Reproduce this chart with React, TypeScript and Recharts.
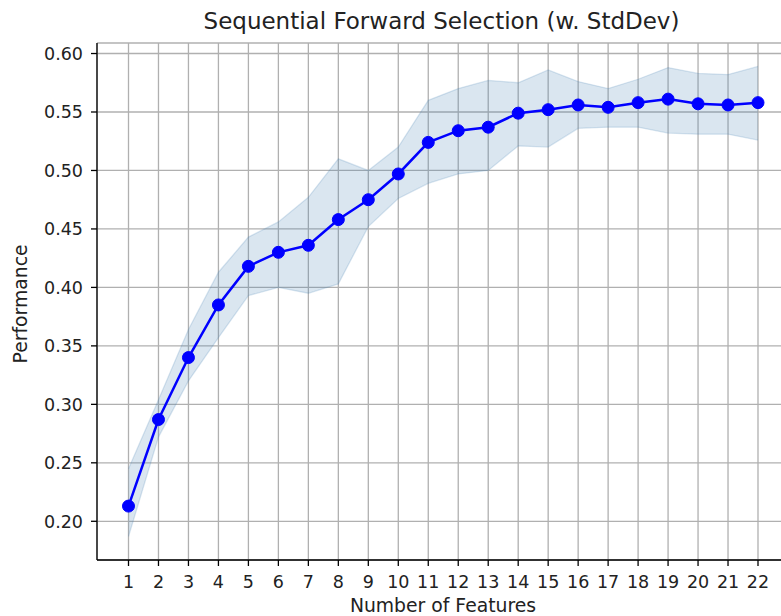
import React from "react";
import {
  ComposedChart,
  Line,
  Area,
  XAxis,
  YAxis,
  CartesianGrid,
} from "recharts";

const features = [1, 2, 3, 4, 5, 6, 7, 8, 9, 10, 11, 12, 13, 14, 15, 16, 17, 18, 19, 20, 21, 22];
const meanPerf = [0.213, 0.287, 0.340, 0.385, 0.418, 0.430, 0.436, 0.458, 0.475, 0.497, 0.524, 0.534, 0.537, 0.549, 0.552, 0.556, 0.554, 0.558, 0.561, 0.557, 0.556, 0.558];
const upperPerf = [0.245, 0.304, 0.364, 0.413, 0.443, 0.456, 0.477, 0.510, 0.500, 0.520, 0.560, 0.570, 0.577, 0.575, 0.586, 0.576, 0.570, 0.578, 0.588, 0.583, 0.582, 0.589];
const lowerPerf = [0.187, 0.272, 0.320, 0.357, 0.393, 0.400, 0.395, 0.403, 0.452, 0.476, 0.489, 0.497, 0.500, 0.521, 0.520, 0.536, 0.537, 0.537, 0.532, 0.531, 0.531, 0.526];
const yTicks = [0.2, 0.25, 0.3, 0.35, 0.4, 0.45, 0.5, 0.55, 0.6];

const data = features.map((f, i) => ({
  k: f,
  avg: meanPerf[i],
  band: [lowerPerf[i], upperPerf[i]],
}));

const FONT = "'DejaVu Sans', sans-serif";
const Y_DOMAIN: [number, number] = [0.1669, 0.609];
const TICK_FONT = 17.5;
const LABEL_FONT = 18.8;

export default function App() {
  return (
    <div
      style={{
        position: "absolute",
        left: 0,
        top: 0,
        width: 781,
        height: 616,
        overflow: "hidden",
        background: "#fff",
        fontFamily: FONT,
      }}
    >
      <ComposedChart
        width={830}
        height={616}
        data={data}
        margin={{ top: 43, right: 11, bottom: 0, left: 0 }}
      >
        <CartesianGrid stroke="#b0b0b0" strokeWidth={1.3} />
        <XAxis
          dataKey="k"
          type="number"
          domain={[1, 22]}
          ticks={features}
          interval={0}
          padding={{ left: 31.5, right: 61 }}
          height={56}
          tickSize={6}
          tickMargin={10}
          axisLine={{ stroke: "#000", strokeWidth: 1.3 }}
          tickLine={{ stroke: "#000", strokeWidth: 1.3 }}
          tick={{ fill: "#222", fontSize: TICK_FONT, fontFamily: FONT }}
        />
        <XAxis
          xAxisId="top"
          orientation="top"
          dataKey="k"
          type="number"
          domain={[1, 22]}
          height={0}
          tick={false}
          tickLine={false}
          axisLine={{ stroke: "#000", strokeWidth: 1.3 }}
        />
        <YAxis
          type="number"
          domain={Y_DOMAIN}
          ticks={yTicks}
          allowDataOverflow
          width={97}
          tickSize={6}
          tickMargin={8}
          tickFormatter={(v: number) => v.toFixed(2)}
          axisLine={{ stroke: "#000", strokeWidth: 1.3 }}
          tickLine={{ stroke: "#000", strokeWidth: 1.3 }}
          tick={{ fill: "#222", fontSize: TICK_FONT, fontFamily: FONT }}
        />
        <Area
          dataKey="band"
          type="linear"
          fill="#4682b4"
          fillOpacity={0.2}
          stroke="#4682b4"
          strokeOpacity={0.2}
          strokeWidth={1.3}
          isAnimationActive={false}
          dot={false}
          activeDot={false}
        />
        <Line
          dataKey="avg"
          type="linear"
          stroke="#0000ff"
          strokeWidth={2.5}
          dot={{ r: 6, fill: "#0000ff", stroke: "#0000ff", strokeWidth: 1 }}
          activeDot={false}
          isAnimationActive={false}
        />
      </ComposedChart>
      <svg
        width={781}
        height={616}
        style={{ position: "absolute", left: 0, top: 0, pointerEvents: "none" }}
      >
        <text
          x={441.5}
          y={29}
          textAnchor="middle"
          fontSize={23}
          fontFamily={FONT}
          fill="#222"
        >
          Sequential Forward Selection (w. StdDev)
        </text>
        <text
          x={443}
          y={612}
          textAnchor="middle"
          fontSize={LABEL_FONT}
          fontFamily={FONT}
          fill="#222"
        >
          Number of Features
        </text>
        <text
          x={27}
          y={304}
          textAnchor="middle"
          fontSize={LABEL_FONT}
          fontFamily={FONT}
          fill="#222"
          transform="rotate(-90 27 304)"
        >
          Performance
        </text>
      </svg>
    </div>
  );
}
